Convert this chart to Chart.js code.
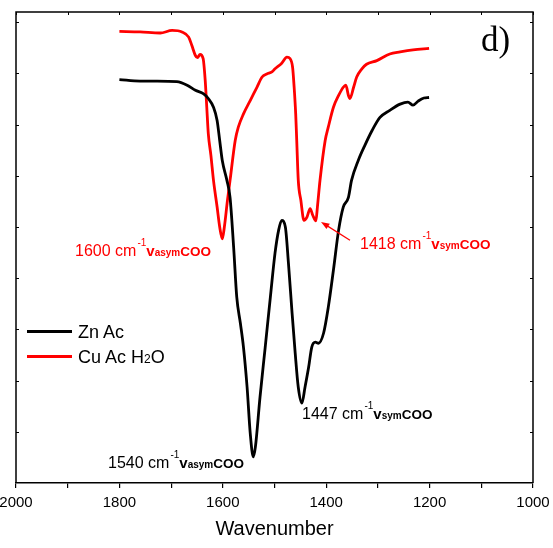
<!DOCTYPE html>
<html lang="en">
<head>
    <meta charset="UTF-8">
    <title>FTIR - Zn Ac / Cu Ac H2O</title>
    <script src="https://cdn.jsdelivr.net/npm/chart.js"></script>
    <style>
        body {
            margin: 0;
            padding: 0;
            background: #fff;
        }

        .wrap {
            position: relative;
            width: 553px;
            height: 548px;
            font-family: Arial, "Liberation Sans", sans-serif;
        }

        .lab {
            position: absolute;
            white-space: nowrap;
            line-height: 1;
            font-size: 16px;
        }

        .red { color: #ff0000; }
        .black { color: #000; }

        .sup { font-size: 10px; position: relative; top: -10px; margin-left: 1px; }
        .v { font-weight: bold; font-size: 15px; }
        .vs { font-weight: bold; font-size: 10px; }
        .coo { font-weight: bold; font-size: 13.5px; }

        .leg {
            position: absolute;
            white-space: nowrap;
            line-height: 1;
            font-size: 18px;
            color: #000;
        }

        .legline {
            position: absolute;
            left: 27px;
            width: 45px;
            height: 3px;
        }

        .panel {
            position: absolute;
            left: 481px;
            top: 22px;
            font-family: "Times New Roman", "Liberation Serif", serif;
            font-size: 35px;
            line-height: 1;
        }
    </style>
</head>
<body>
    <div class="wrap">
        <canvas id="ftir" width="553" height="548"></canvas>

        <div class="panel">d)</div>

        <div class="lab red" style="left:75px; top:243px;">1600 cm<span class="sup">-1</span><span class="v">v</span><span class="vs">asym</span><span class="coo">COO</span></div>
        <div class="lab red" style="left:360px; top:236px;">1418 cm<span class="sup">-1</span><span class="v">v</span><span class="vs">sym</span><span class="coo">COO</span></div>
        <div class="lab black" style="left:302px; top:406px;">1447 cm<span class="sup">-1</span><span class="v">v</span><span class="vs">sym</span><span class="coo">COO</span></div>
        <div class="lab black" style="left:108px; top:455px;">1540 cm<span class="sup">-1</span><span class="v">v</span><span class="vs">asym</span><span class="coo">COO</span></div>

        <div class="legline" style="top:330px; background:#000;"></div>
        <div class="leg" style="left:78px; top:323px;">Zn Ac</div>
        <div class="legline" style="top:355px; background:#ff0000;"></div>
        <div class="leg" style="left:78px; top:348px;">Cu Ac H<span style="font-size:12px">2</span>O</div>
    </div>

    <script>
        // Zn Ac spectrum (wavenumber, transmittance a.u.)
        const wnZn = [1800, 1760, 1727, 1689, 1669, 1653, 1637, 1628, 1618, 1611,
                      1606, 1601, 1592, 1586, 1579, 1573, 1566, 1560, 1553, 1547,
                      1541, 1537, 1528, 1518, 1508, 1499, 1492, 1486, 1479, 1473,
                      1466, 1460, 1454, 1447, 1441, 1434, 1428, 1421, 1415, 1405,
                      1396, 1386, 1376, 1367, 1357, 1351, 1338, 1325, 1311, 1296,
                      1277, 1257, 1242, 1232, 1222, 1211, 1201];
        const tZn = [78.8, 78.5, 78.5, 78.4, 77.7, 76.7, 76.0, 75.1, 73.4, 70.8,
                     66.9, 63.0, 59.1, 55.8, 46.0, 36.3, 31.2, 26.5, 18.7, 9.8,
                     5.1, 7.0, 16.8, 26.5, 36.3, 44.9, 49.4, 51.3, 50.0, 42.9,
                     33.2, 25.4, 18.7, 15.6, 18.7, 22.6, 26.5, 27.5, 27.3, 29.3,
                     34.3, 41.6, 49.4, 53.9, 55.8, 59.1, 63.0, 66.0, 68.9, 71.4,
                     72.8, 74.0, 74.4, 73.8, 74.6, 75.2, 75.3];

        // Cu Ac H2O spectrum
        const wnCu = [1800, 1760, 1721, 1698, 1679, 1666, 1660, 1653, 1649, 1644,
                      1638, 1634, 1631, 1628, 1623, 1618, 1611, 1606, 1601, 1597,
                      1591, 1586, 1576, 1570, 1560, 1547, 1534, 1524, 1515, 1505,
                      1499, 1486, 1476, 1470, 1465, 1462, 1459, 1457, 1454, 1449,
                      1443, 1437, 1431, 1426, 1420, 1417, 1412, 1402, 1396, 1386,
                      1376, 1367, 1362, 1357, 1354, 1347, 1341, 1331, 1322, 1302,
                      1277, 1257, 1232, 1201];
        const tCu = [88.2, 88.1, 87.9, 88.4, 88.1, 87.1, 85.5, 83.5, 83.1, 83.7,
                     82.9, 78.6, 73.4, 68.2, 64.0, 59.1, 53.9, 50.0, 47.7, 50.0,
                     55.2, 59.1, 66.9, 69.5, 72.1, 74.7, 77.3, 79.3, 79.9, 80.3,
                     80.9, 82.0, 83.2, 82.9, 81.2, 77.3, 72.1, 66.9, 59.1, 55.2,
                     51.3, 52.0, 53.6, 52.3, 51.2, 53.9, 59.1, 66.9, 69.5, 73.4,
                     75.7, 77.3, 77.7, 75.7, 75.1, 77.3, 79.3, 80.9, 81.8, 82.5,
                     83.8, 84.2, 84.6, 84.9];

        const xTickLabels = [2000, 1800, 1600, 1400, 1200, 1000];
        const yTickValues = [10, 20, 30, 40, 50, 60, 70, 80, 90];

        // arrow pointing at the 1418 band: [wavenumber, T] tail -> head
        const arrowTail = [1354, 47.4];
        const arrowHead = [1410, 51.0];

        const toPoints = (xs, ys) => xs.map((w, i) => ({ x: w, y: ys[i] }));

        // box frame, inward ticks and the annotation arrow
        const framePlugin = {
            id: 'frame',
            afterDraw(chart) {
                const { ctx, chartArea: a, scales: { x, y } } = chart;
                ctx.save();
                ctx.strokeStyle = '#000';
                ctx.lineWidth = 1.5;
                ctx.beginPath();
                ctx.moveTo(a.left, a.bottom);
                ctx.lineTo(a.left, a.top);
                ctx.lineTo(a.right, a.top);
                ctx.lineTo(a.right, a.bottom);
                ctx.stroke();

                ctx.lineWidth = 1;
                ctx.beginPath();
                yTickValues.forEach(v => {
                    const py = Math.round(y.getPixelForValue(v)) + 0.5;
                    ctx.moveTo(a.left, py); ctx.lineTo(a.left + 3, py);
                    ctx.moveTo(a.right, py); ctx.lineTo(a.right - 3, py);
                });
                x.ticks.forEach(t => {
                    const px = Math.round(x.getPixelForValue(t.value)) + 0.5;
                    ctx.moveTo(px, a.top); ctx.lineTo(px, a.top + 3);
                });
                ctx.stroke();

                // arrow
                const x1 = x.getPixelForValue(arrowTail[0]), y1 = y.getPixelForValue(arrowTail[1]);
                const x2 = x.getPixelForValue(arrowHead[0]), y2 = y.getPixelForValue(arrowHead[1]);
                const ang = Math.atan2(y2 - y1, x2 - x1);
                ctx.strokeStyle = '#ff0000';
                ctx.fillStyle = '#ff0000';
                ctx.lineWidth = 1.2;
                ctx.beginPath();
                ctx.moveTo(x1, y1);
                ctx.lineTo(x2 - 6 * Math.cos(ang), y2 - 6 * Math.sin(ang));
                ctx.stroke();
                ctx.beginPath();
                ctx.moveTo(x2, y2);
                ctx.lineTo(x2 - 9 * Math.cos(ang - 0.35), y2 - 9 * Math.sin(ang - 0.35));
                ctx.lineTo(x2 - 9 * Math.cos(ang + 0.35), y2 - 9 * Math.sin(ang + 0.35));
                ctx.closePath();
                ctx.fill();
                ctx.restore();
            }
        };

        const ctx = document.getElementById('ftir').getContext('2d');
        const chart = new Chart(ctx, {
            type: 'line',
            data: {
                datasets: [
                    {
                        label: 'Zn Ac',
                        data: toPoints(wnZn, tZn),
                        borderColor: '#000000',
                        borderWidth: 2.8,
                        pointRadius: 0,
                        cubicInterpolationMode: 'monotone',
                        fill: false
                    },
                    {
                        label: 'Cu Ac H2O',
                        data: toPoints(wnCu, tCu),
                        borderColor: '#ff0000',
                        borderWidth: 2.8,
                        pointRadius: 0,
                        cubicInterpolationMode: 'monotone',
                        fill: false
                    }
                ]
            },
            options: {
                responsive: false,
                animation: false,
                layout: { padding: { left: 16, right: 20, top: 12, bottom: 3 } },
                plugins: {
                    legend: { display: false },
                    tooltip: { enabled: false }
                },
                scales: {
                    x: {
                        type: 'linear',
                        min: 1000,
                        max: 2000,
                        reverse: true,
                        ticks: {
                            stepSize: 100,
                            autoSkip: false,
                            maxRotation: 0,
                            padding: 7,
                            color: '#000',
                            font: { family: 'Arial, "Liberation Sans", sans-serif', size: 15, lineHeight: 1 },
                            callback: v => xTickLabels.includes(v) ? String(v) : ''
                        },
                        grid: {
                            drawOnChartArea: false,
                            tickLength: 5,
                            color: '#000',
                            lineWidth: 1.2
                        },
                        border: { color: '#000', width: 1.5 },
                        title: {
                            display: true,
                            text: 'Wavenumber',
                            color: '#000',
                            font: { family: 'Arial, "Liberation Sans", sans-serif', size: 20 },
                            padding: { top: 0, bottom: 4 }
                        },
                        afterFit: s => { s.paddingLeft = 0; s.paddingRight = 0; }
                    },
                    y: {
                        display: false,
                        min: 0,
                        max: 92
                    }
                }
            },
            plugins: [framePlugin]
        });
    </script>
</body>
</html>
